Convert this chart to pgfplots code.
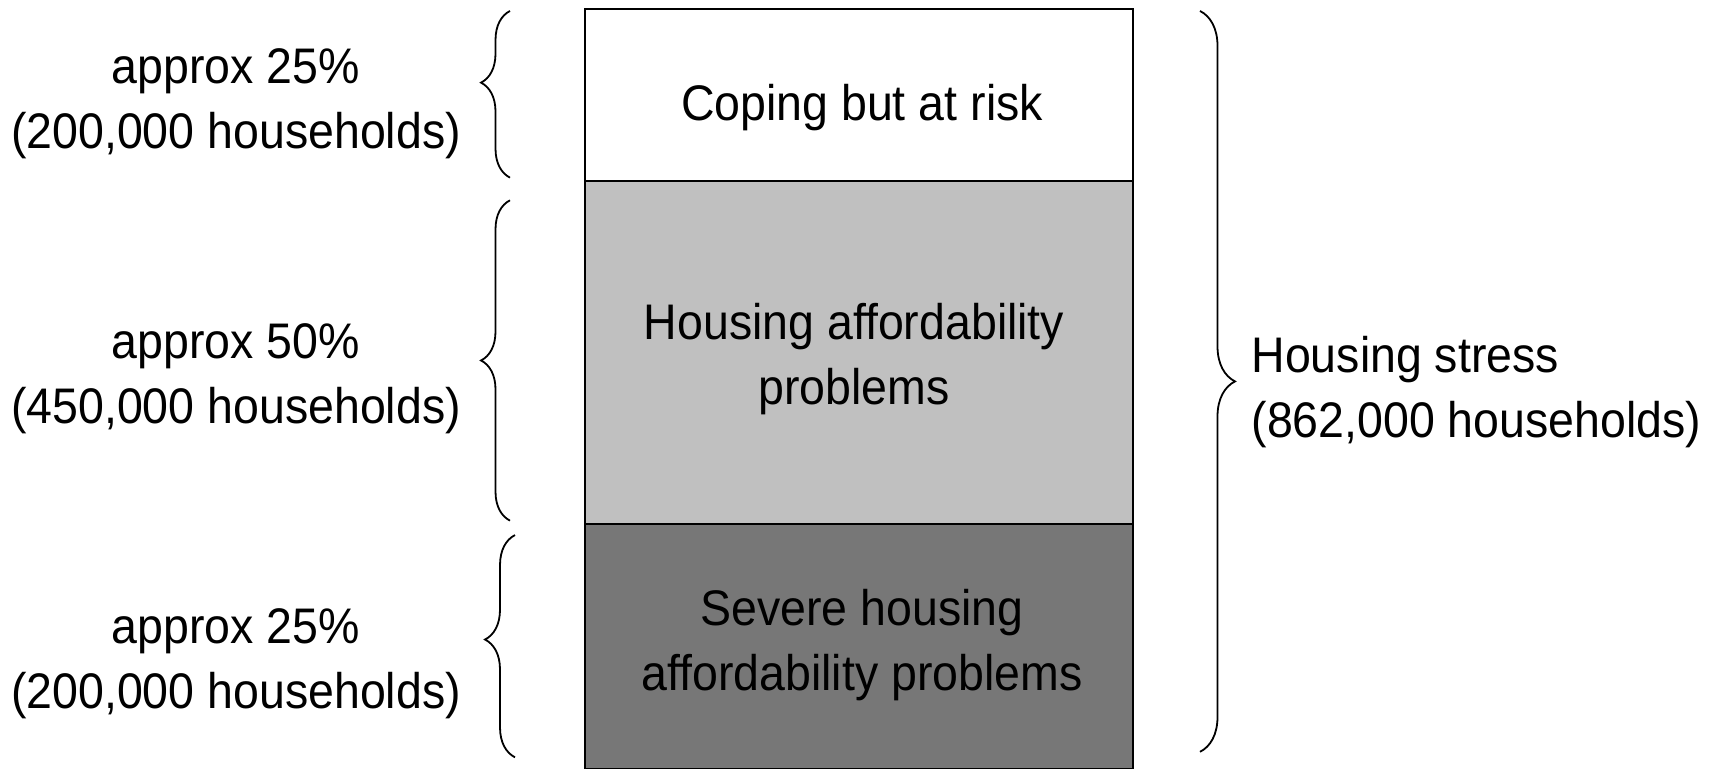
\documentclass[border=0pt]{standalone}
\usepackage{fontspec}
\setmainfont{Liberation Sans}[FakeStretch=0.93]
\usepackage{pgfplots}
\pgfplotsset{compat=1.18}
\usetikzlibrary{decorations.pathreplacing}

\definecolor{midgrey}{HTML}{C0C0C0}
\definecolor{sevgrey}{HTML}{777777}

\begin{document}
\begin{tikzpicture}[
    lbl/.style={font=\fontsize{50}{65}\selectfont, align=center, text=black},
    brc/.style={line width=1.8pt, decorate},
]
\begin{axis}[
    scale only axis,
    width=1721pt, height=769pt,
    xmin=0, xmax=1721, ymin=0, ymax=112.1,
    hide axis, clip=false,
    ybar stacked, bar width=548, bar shift=0pt,
]
% share of households, bottom to top (bottom block runs off the page)
\addplot[fill=sevgrey, draw=black, line width=2.8pt] coordinates {(859,35.7)};
\addplot[fill=midgrey, draw=black, line width=2.8pt] coordinates {(859,50)};
\addplot[fill=white, draw=black, line width=2.8pt] coordinates {(859,25.1)};

\coordinate (t1) at (axis cs:862,96.4);
\coordinate (t2) at (axis cs:854,59.8);
\coordinate (t3) at (axis cs:862,18.1);
\coordinate (l1) at (axis cs:236,97.0);
\coordinate (l2) at (axis cs:236,56.9);
\coordinate (l3) at (axis cs:236,15.4);
\coordinate (r1) at (axis cs:1248,54.9);

\draw[brc, decoration={brace, amplitude=29pt, aspect=0.57}]
    (axis cs:510,86.2) -- (axis cs:510,110.5);
\draw[brc, decoration={brace, amplitude=29pt, aspect=0.5}]
    (axis cs:510,36.2) -- (axis cs:510,82.9);
\draw[brc, decoration={brace, amplitude=30pt, aspect=0.53}]
    (axis cs:515,1.7) -- (axis cs:515,34.1);
\draw[brc, decoration={brace, amplitude=35pt, aspect=0.5}]
    (axis cs:1200,110.5) -- (axis cs:1200,2.5);

\coordinate (bl) at (axis cs:0,0);
\coordinate (tr) at (axis cs:1721,112.1);
\end{axis}

\node[lbl] at (t1) {Coping but at risk};
\node[lbl] at (t2) {Housing affordability\\problems};
\node[lbl] at (t3) {Severe housing\\affordability problems};
\node[lbl] at (l1) {approx 25\%\\(200,000 households)};
\node[lbl] at (l2) {approx 50\%\\(450,000 households)};
\node[lbl] at (l3) {approx 25\%\\(200,000 households)};
\node[lbl, align=left, anchor=west] at (r1) {Housing stress\\(862,000 households)};

\pgfresetboundingbox
\path (bl) rectangle (tr);
\end{tikzpicture}
\end{document}
